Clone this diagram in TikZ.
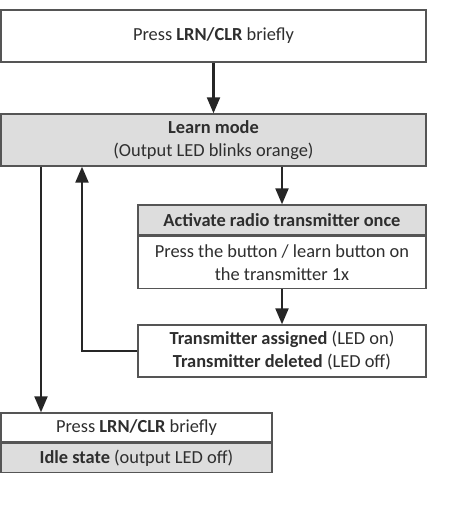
\documentclass[tikz,border=0pt]{standalone}
\usepackage{fontspec}
\setmainfont{Carlito}
\usepackage{xcolor}
\usepackage{tikz}
\usetikzlibrary{positioning}
\usetikzlibrary{arrows.meta}
\definecolor{boxgrey}{HTML}{DDDDDD}
\definecolor{linegrey}{HTML}{555555}
\definecolor{textgrey}{HTML}{2E2E2E}

\begin{document}
\begin{tikzpicture}[
      x=0.5pt, y=-0.5pt,
      every node/.style={font=\fontsize{9.2}{11.5}\selectfont, text=textgrey, inner sep=0pt, align=center},
      type-white/.style={rectangle, draw=linegrey, fill=white, line width=0.7pt},
      type-grey/.style={rectangle, draw=linegrey, fill=boxgrey, line width=0.7pt},
      type-wide/.style={minimum width=212.5pt, minimum height=26pt},
      type-side/.style={minimum width=144pt},
      type-low/.style={minimum width=135.5pt, minimum height=14.5pt},
      type-arrow/.style={-{Triangle[width=6.5pt,length=8pt]}, line width=1.1pt, draw=black!85}
    ]
      \useasboundingbox (0,0) rectangle (453,509);
      \node[type-white, type-wide] (press) at (213.5,36) {Press \textbf{LRN/CLR} briefly};
      \node[type-grey, type-wide] (learn) at (213.5,140) {\textbf{Learn mode}\\(Output LED blinks orange)};
      \node[type-grey, type-side, minimum height=15pt] (activate) at (282,220) {\textbf{Activate radio transmitter once}};
      \node[type-white, type-side, minimum height=26pt, below=0pt of activate] (button) {Press the button / learn button on\\the transmitter 1x};
      \node[type-white, type-side, minimum height=26pt] (result) at (282,351) {\textbf{Transmitter assigned} (LED on)\\\textbf{Transmitter deleted} (LED off)};
      \node[type-white, type-low] (idlepress) at (136.5,427.5) {Press \textbf{LRN/CLR} briefly};
      \node[type-grey, type-low, below=0pt of idlepress] (idle) {\textbf{Idle state} (output LED off)};
      \coordinate (down) at (41,0);
      \coordinate (up) at (82,0);
      \draw[type-arrow] (press) -- (learn);
      \draw[type-arrow] (learn.south -| activate.north) -- (activate.north);
      \draw[type-arrow] (button) -- (result);
      \draw[type-arrow] (result.west) -| (learn.south -| up);
      \draw[type-arrow] (learn.south -| down) -- (idlepress.north -| down);
    \end{tikzpicture}
\end{document}
